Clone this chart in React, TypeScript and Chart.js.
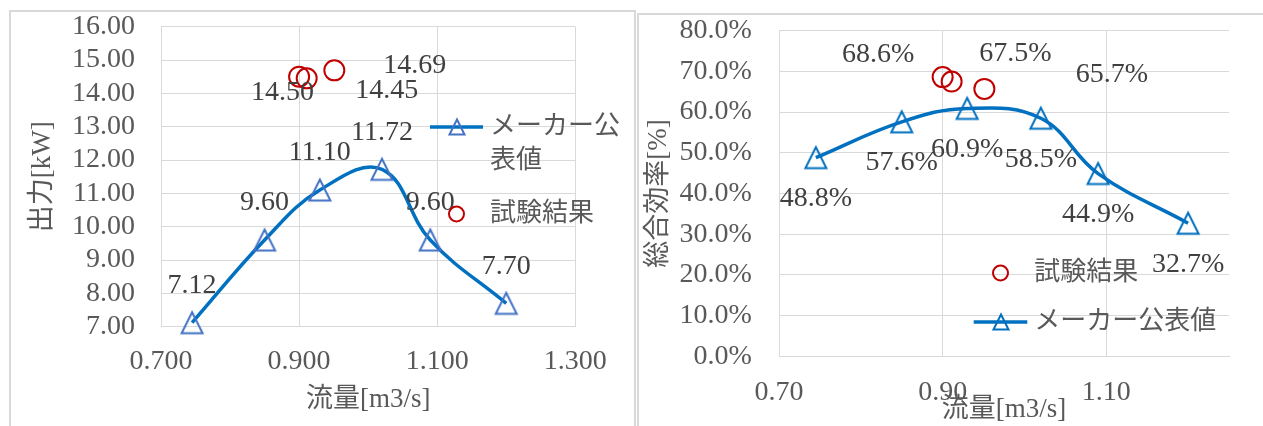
import React, { useEffect, useRef } from "react";
import { Chart, registerables } from "chart.js";

Chart.register(...registerables);

// Series names
const makerLabel = "メーカー公表値";
const testLabel = "試験結果";

// Manufacturer's published curve: flow rate [m3/s], output [kW], overall efficiency [%]
const makerFlow = [0.745, 0.85, 0.93, 1.02, 1.09, 1.2];
const makerPower = [7.12, 9.6, 11.1, 11.72, 9.6, 7.7];
const makerEfficiency = [48.8, 57.6, 60.9, 58.5, 44.9, 32.7];

// Measured results
const testFlow = [0.9, 0.911, 0.951];
const testPower = [14.5, 14.45, 14.69];
const testEfficiency = [68.6, 67.5, 65.7];

// Axis ticks
const powerFlowTicks = [0.7, 0.9, 1.1, 1.3];
const powerTicks = [7, 8, 9, 10, 11, 12, 13, 14, 15, 16];
const effFlowTicks = [0.7, 0.9, 1.1];
const effTicks = [0, 10, 20, 30, 40, 50, 60, 70, 80];

const SERIF = "'Liberation Serif', 'Noto Sans CJK JP', serif";
const LINE_BLUE = "#0070C0";
const MARKER_BLUE = "#4472C4";
const TEST_RED = "#C00000";
const GRID = "#d9d9d9";
const AXIS_TEXT = "#595959";
const LABEL_TEXT = "#404040";
const FRAME = "#d9d9d9";

type Pt = { x: number; y: number };
const pairs = (xs: number[], ys: number[]): Pt[] => xs.map((x, i) => ({ x, y: ys[i] }));

// Open triangle marker, centred on its bounding box
function triangleMarker(color: string, half: number, lineWidth: number): HTMLCanvasElement {
  const size = Math.ceil(half + lineWidth * 2) * 2;
  const c = document.createElement("canvas");
  c.width = size;
  c.height = size;
  const g = c.getContext("2d")!;
  const m = size / 2;
  g.strokeStyle = color;
  g.lineWidth = lineWidth;
  g.beginPath();
  g.moveTo(m, m - half);
  g.lineTo(m + half, m + half);
  g.lineTo(m - half, m + half);
  g.closePath();
  g.stroke();
  return c;
}

// Value labels next to each point, shifted by per-point offsets
function valueLabels(offsets: number[][][], format: (v: number) => string) {
  return {
    id: "valueLabels",
    afterDatasetsDraw(chart: any) {
      const ctx = chart.ctx as CanvasRenderingContext2D;
      ctx.save();
      ctx.font = `28px ${SERIF}`;
      ctx.fillStyle = LABEL_TEXT;
      ctx.textAlign = "center";
      ctx.textBaseline = "middle";
      chart.data.datasets.forEach((ds: any, di: number) => {
        const meta = chart.getDatasetMeta(di);
        const offs = offsets[di];
        meta.data.forEach((el: any, i: number) => {
          const [dx, dy] = offs[Math.min(i, offs.length - 1)];
          ctx.fillText(format(ds.data[i].y), el.x + dx, el.y + dy);
        });
      });
      ctx.restore();
    },
  };
}

type LegendEntry = { dataset: number; x: number; y: number; lines: string[] };

// Legend laid over the plot, with wrapped text
function sideLegend(entries: LegendEntry[], lineLen: number, textGap: number, lineStep: number) {
  return {
    id: "sideLegend",
    afterDraw(chart: any) {
      const ctx = chart.ctx as CanvasRenderingContext2D;
      ctx.save();
      entries.forEach((e) => {
        const ds = chart.data.datasets[e.dataset];
        const cx = e.x + lineLen / 2;
        if (ds.showLine) {
          ctx.strokeStyle = ds.borderColor;
          ctx.lineWidth = ds.borderWidth;
          ctx.beginPath();
          ctx.moveTo(e.x, e.y);
          ctx.lineTo(e.x + lineLen, e.y);
          ctx.stroke();
          const t = triangleMarker(ds.pointBorderColor, 7.5, 2);
          ctx.drawImage(t, Math.round(cx - t.width / 2), Math.round(e.y - t.height / 2));
        } else {
          ctx.strokeStyle = ds.pointBorderColor;
          ctx.lineWidth = 2;
          ctx.beginPath();
          ctx.arc(cx, e.y, 7.5, 0, Math.PI * 2);
          ctx.stroke();
        }
        ctx.font = `26px ${SERIF}`;
        ctx.fillStyle = AXIS_TEXT;
        ctx.textAlign = "left";
        ctx.textBaseline = "middle";
        e.lines.forEach((line, li) => {
          ctx.fillText(line, e.x + lineLen + textGap, e.y + li * lineStep);
        });
      });
      ctx.restore();
    },
  };
}

type AxisSpec = {
  xMin: number;
  xMax: number;
  yMin: number;
  yMax: number;
  xTicks: number[];
  yTicks: number[];
  xFmt: (v: number) => string;
  yFmt: (v: number) => string;
  xTitle: string;
  yTitle: string;
  yWidth: number;
  xHeight: number;
  xTickPad: number;
  yTickPad: number;
  xTitlePad: number;
  yTitlePad: number;
};

function zeroPadding(s: any) {
  s.paddingLeft = 0;
  s.paddingRight = 0;
  s.paddingTop = 0;
  s.paddingBottom = 0;
}

function buildScales(a: AxisSpec) {
  const tickFont = { family: SERIF, size: 28 };
  const titleFont = { family: SERIF, size: 27 };
  return {
    x: {
      type: "linear" as const,
      min: a.xMin,
      max: a.xMax,
      afterBuildTicks: (s: any) => {
        s.ticks = a.xTicks.map((value) => ({ value }));
      },
      afterFit: (s: any) => {
        s.height = a.xHeight;
        zeroPadding(s);
      },
      grid: { color: GRID, lineWidth: 1, drawTicks: false },
      border: { color: GRID, width: 1 },
      ticks: {
        color: AXIS_TEXT,
        font: tickFont,
        padding: a.xTickPad,
        autoSkip: false,
        maxRotation: 0,
        callback: (v: any) => a.xFmt(Number(v)),
      },
      title: {
        display: true,
        text: a.xTitle,
        color: AXIS_TEXT,
        font: titleFont,
        padding: { top: 0, bottom: a.xTitlePad },
      },
    },
    y: {
      type: "linear" as const,
      min: a.yMin,
      max: a.yMax,
      afterBuildTicks: (s: any) => {
        s.ticks = a.yTicks.map((value) => ({ value }));
      },
      afterFit: (s: any) => {
        s.width = a.yWidth;
        zeroPadding(s);
      },
      grid: { color: GRID, lineWidth: 1, drawTicks: false },
      border: { color: GRID, width: 1 },
      ticks: {
        color: AXIS_TEXT,
        font: tickFont,
        padding: a.yTickPad,
        autoSkip: false,
        callback: (v: any) => a.yFmt(Number(v)),
      },
      title: {
        display: true,
        text: a.yTitle,
        color: AXIS_TEXT,
        font: titleFont,
        padding: { top: a.yTitlePad, bottom: 0 },
      },
    },
  };
}

function PowerChart() {
  const ref = useRef<HTMLCanvasElement>(null);
  useEffect(() => {
    const tri = triangleMarker(MARKER_BLUE, 10.5, 2);
    const chart = new Chart(ref.current!, {
      type: "scatter",
      data: {
        datasets: [
          {
            label: makerLabel,
            data: pairs(makerFlow, makerPower),
            showLine: true,
            borderColor: LINE_BLUE,
            borderWidth: 3.5,
            tension: 0.4,
            pointStyle: tri as any,
            pointRadius: 11,
            pointBorderColor: MARKER_BLUE,
            backgroundColor: "transparent",
            clip: false,
          },
          {
            label: testLabel,
            data: pairs(testFlow, testPower),
            showLine: false,
            pointStyle: "circle",
            pointRadius: 10,
            pointBorderWidth: 2,
            pointBorderColor: TEST_RED,
            pointBackgroundColor: "transparent",
            clip: false,
          },
        ],
      },
      options: {
        animation: false,
        responsive: false,
        layout: { padding: { left: 0, top: 14.7, right: 58.7, bottom: 0 } },
        scales: buildScales({
          xMin: 0.7,
          xMax: 1.3,
          yMin: 7,
          yMax: 16,
          xTicks: powerFlowTicks,
          yTicks: powerTicks,
          xFmt: (v) => v.toFixed(3),
          yFmt: (v) => v.toFixed(2),
          xTitle: "流量[m3/s]",
          yTitle: "出力[kW]",
          yWidth: 150,
          xHeight: 99.3,
          xTickPad: 18,
          yTickPad: 26,
          xTitlePad: 9.8,
          yTitlePad: 16,
        }),
        plugins: { legend: { display: false }, tooltip: { enabled: false } },
      },
      plugins: [
        valueLabels(
          [
            [[0, -37]],
            [
              [-16.6, 15.8],
              [80, 12.5],
              [80.4, -4.5],
            ],
          ],
          (v) => v.toFixed(2)
        ),
        sideLegend(
          [
            { dataset: 0, x: 419, y: 115, lines: ["メーカー公", "表値"] },
            { dataset: 1, x: 419, y: 202, lines: [testLabel] },
          ],
          53,
          7,
          34.5
        ),
      ],
    });
    return () => chart.destroy();
  }, []);
  return <canvas ref={ref} width={623} height={414} style={{ display: "block", width: 623, height: 414 }} />;
}

function EfficiencyChart() {
  const ref = useRef<HTMLCanvasElement>(null);
  useEffect(() => {
    const tri = triangleMarker(LINE_BLUE, 10.5, 2);
    const chart = new Chart(ref.current!, {
      type: "scatter",
      data: {
        datasets: [
          {
            label: testLabel,
            data: pairs(testFlow, testEfficiency),
            showLine: false,
            pointStyle: "circle",
            pointRadius: 10,
            pointBorderWidth: 2,
            pointBorderColor: TEST_RED,
            pointBackgroundColor: "transparent",
            clip: false,
          },
          {
            label: makerLabel,
            data: pairs(makerFlow, makerEfficiency),
            showLine: true,
            borderColor: LINE_BLUE,
            borderWidth: 3.5,
            tension: 0.4,
            pointStyle: tri as any,
            pointRadius: 11,
            pointBorderColor: LINE_BLUE,
            backgroundColor: "transparent",
            clip: false,
          },
        ],
      },
      options: {
        animation: false,
        responsive: false,
        layout: { padding: { left: 0, top: 15.7, right: 34, bottom: 0 } },
        scales: buildScales({
          xMin: 0.7,
          xMax: 1.25,
          yMin: 0,
          yMax: 80,
          xTicks: effFlowTicks,
          yTicks: effTicks,
          xFmt: (v) => v.toFixed(2),
          yFmt: (v) => v.toFixed(1) + "%",
          xTitle: "流量[m3/s]",
          yTitle: "総合効率[%]",
          yWidth: 140,
          xHeight: 69.7,
          xTickPad: 19.4,
          yTickPad: 27.3,
          xTitlePad: 0,
          yTitlePad: 3.8,
        }),
        plugins: { legend: { display: false }, tooltip: { enabled: false } },
      },
      plugins: [
        valueLabels(
          [
            [
              [-64.4, -22],
              [63.8, -28.3],
              [127.6, -13.9],
            ],
            [[0, 41]],
          ],
          (v) => v.toFixed(1) + "%"
        ),
        sideLegend(
          [
            { dataset: 0, x: 334.7, y: 258, lines: [testLabel] },
            { dataset: 1, x: 334.7, y: 307, lines: [makerLabel] },
          ],
          53.6,
          7,
          34
        ),
      ],
    });
    return () => chart.destroy();
  }, []);
  return <canvas ref={ref} width={624} height={411} style={{ display: "block", width: 624, height: 411 }} />;
}

export default function App() {
  return (
    <div
      style={{
        position: "fixed",
        left: 0,
        top: 0,
        width: 1263,
        height: 426,
        overflow: "hidden",
        background: "#ffffff",
      }}
    >
      <div
        style={{
          position: "absolute",
          left: 9,
          top: 10,
          width: 627,
          height: 440,
          boxSizing: "border-box",
          border: `2px solid ${FRAME}`,
          borderBottom: "none",
        }}
      >
        <PowerChart />
      </div>
      <div
        style={{
          position: "absolute",
          left: 637,
          top: 13,
          width: 700,
          height: 440,
          boxSizing: "border-box",
          border: `2px solid ${FRAME}`,
          borderBottom: "none",
        }}
      >
        <EfficiencyChart />
      </div>
    </div>
  );
}
